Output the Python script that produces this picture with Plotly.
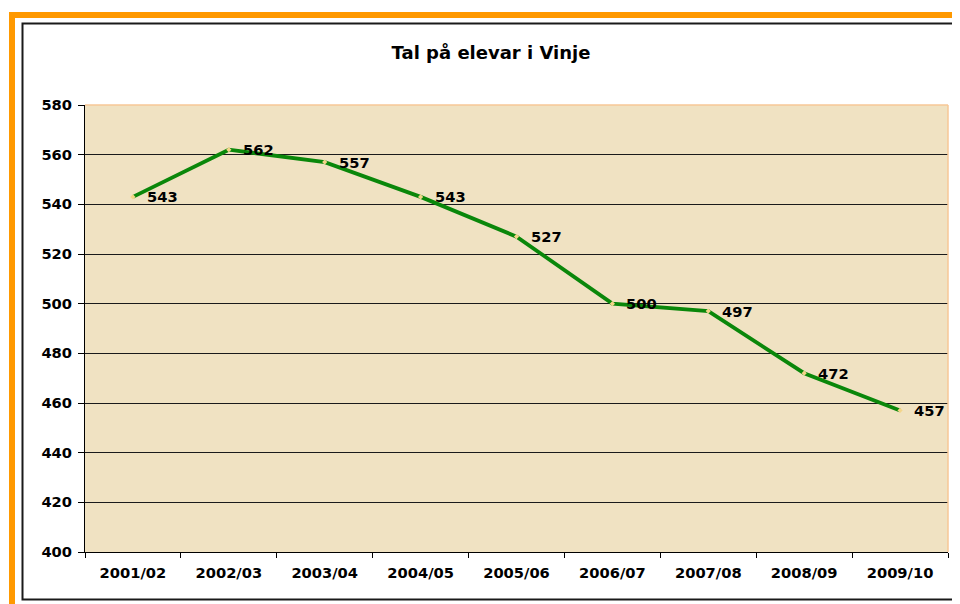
import plotly.graph_objects as go

categories = ["2001/02", "2002/03", "2003/04", "2004/05", "2005/06",
              "2006/07", "2007/08", "2008/09", "2009/10"]
students = [543, 562, 557, 543, 527, 500, 497, 472, 457]
y_ticks = list(range(400, 581, 20))
title_text = "Tal på elevar i Vinje"

# The page has an 8px body margin, so the figure is drawn 8px smaller and
# all reference pixel positions are shifted by that offset.
OFF = 8
W, H = 960 - OFF, 604 - OFF
PLOT_L, PLOT_R, PLOT_T, PLOT_B = 85, 948, 105, 552   # reference pixels
L = PLOT_L - OFF
T = PLOT_T - OFF
R = W - (PLOT_R - OFF)
B = H - (PLOT_B - OFF)
PW = W - L - R
PH = H - T - B


def px(x):
    return (x - OFF - L) / PW


def py(y):
    return (H - B - (y - OFF)) / PH


FONT = "DejaVu Sans"
small_font = dict(family=FONT, size=14.7, color="black", weight="bold")

fig = go.Figure()
fig.add_trace(go.Scatter(
    x=categories, y=students, mode="lines+markers",
    line=dict(color="#0a870a", width=3.8),
    marker=dict(size=4, color="#f3d58a", symbol="diamond"),
    cliponaxis=False, hoverinfo="x+y", showlegend=False,
))

annotations = []
for c, v in zip(categories, students):
    annotations.append(dict(
        x=c, y=v, xref="x", yref="y", text=str(v), showarrow=False,
        xanchor="left", yanchor="middle", xshift=12, font=small_font,
    ))

shapes = [
    # orange outer frame
    dict(type="rect", xref="paper", yref="paper",
         x0=px(12), x1=px(990), y0=py(15), y1=py(640),
         line=dict(color="#ff9900", width=6), layer="above"),
    # inner black border
    dict(type="rect", xref="paper", yref="paper",
         x0=px(22.5), x1=px(958), y0=py(23.5), y1=py(599.5),
         line=dict(color="#1a1a1a", width=2), layer="above"),
    # plot-area border (top and right)
    dict(type="line", xref="paper", yref="paper",
         x0=0, x1=1, y0=1, y1=1,
         line=dict(color="#f7c796", width=1.5), layer="above"),
    dict(type="line", xref="paper", yref="paper",
         x0=1, x1=1, y0=0, y1=1,
         line=dict(color="#f7c796", width=1.5), layer="above"),
]

fig.update_layout(
    width=W, height=H,
    margin=dict(l=L, r=R, t=T, b=B),
    paper_bgcolor="white",
    plot_bgcolor="#f0e2c2",
    title=dict(text=title_text, x=px(491), xref="paper", xanchor="center",
               y=(H - (53 - OFF)) / H, yref="container", yanchor="middle",
               font=dict(family=FONT, size=18, color="black", weight="bold")),
    xaxis=dict(type="category", range=[-0.5, len(categories) - 0.5],
               tickson="boundaries", ticks="outside", ticklen=5,
               tickcolor="black", showline=True, linecolor="black",
               linewidth=1, showgrid=False, tickfont=small_font,
               ticklabelstandoff=7, fixedrange=True),
    yaxis=dict(range=[400, 580], tickvals=y_ticks, ticks="outside",
               ticklen=6, tickcolor="black", showline=True,
               linecolor="black", linewidth=1, showgrid=True,
               gridcolor="#1a1a1a", gridwidth=1, zeroline=False,
               tickfont=small_font, ticklabelstandoff=3, fixedrange=True),
    annotations=annotations,
    shapes=shapes,
)

fig.write_html("out.html")
